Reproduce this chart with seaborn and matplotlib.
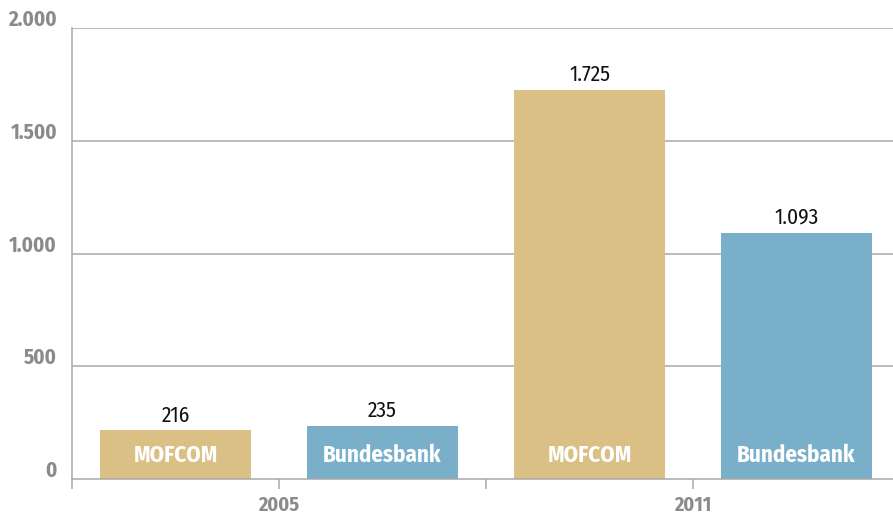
import matplotlib
matplotlib.use("Agg")
import matplotlib.pyplot as plt
import matplotlib.transforms as mtransforms
import seaborn as sns
import pandas as pd

# ---- data ----
years = ["2005", "2011"]
sources = ["MOFCOM", "Bundesbank"]
values_2005 = [216, 235]
values_2011 = [1725, 1093]
y_ticks = [0, 500, 1000, 1500, 2000]

colors = {"MOFCOM": "#DAC085", "Bundesbank": "#7AAFCA"}

rows = []
for yr, vals in zip(years, [values_2005, values_2011]):
    for src, v in zip(sources, vals):
        rows.append({"key": f"{yr} {src}", "year": yr, "source": src, "value": v})
df = pd.DataFrame(rows)

def fmt(v):
    return f"{v:,}".replace(",", ".")

sns.set_theme(style="white")
plt.rcParams["font.family"] = ["Fira Sans Condensed", "DejaVu Sans"]

W, H = 893, 518
fig = plt.figure(figsize=(W / 100, H / 100), dpi=100)
ax = fig.add_axes([72 / W, 39 / H, 828 / W, 451 / H])

sns.barplot(data=df, x="key", y="value", hue="source", palette=colors,
            dodge=False, width=0.725, saturation=1, legend=False,
            linewidth=0, ax=ax)

ax.set_ylim(0, 2000)
ax.set_xlim(-0.5, 3.5)
ax.set_xlabel("")
ax.set_ylabel("")

grid_c = "#A8A8A8"
for t in y_ticks[1:]:
    ax.axhline(t, color=grid_c, lw=1.1, zorder=0)

for s in ["top", "right"]:
    ax.spines[s].set_visible(False)
for s in ["left", "bottom"]:
    ax.spines[s].set_color(grid_c)
    ax.spines[s].set_linewidth(1.1)

# y ticks
ax.set_yticks(y_ticks)
ax.set_yticklabels([fmt(t) for t in y_ticks])
ax.tick_params(axis="y", length=0, pad=10.8, labelsize=15, labelcolor="#8A8A8A")
offset = mtransforms.ScaledTranslation(0, 2 / 100, fig.dpi_scale_trans)
for lab in ax.get_yticklabels():
    lab.set_fontweight("bold")
    lab.set_verticalalignment("baseline")
    lab.set_transform(lab.get_transform() + offset)

# x ticks
ax.set_xticks([-0.5, 0.5, 1.5, 2.5, 3.5])
ax.set_xticklabels(["", years[0], "", years[1], ""])
ax.tick_params(axis="x", length=7.2, width=1.1, color=grid_c, pad=5,
               labelsize=14.5, labelcolor="#8A8A8A", direction="out", bottom=True)
for lab in ax.get_xticklabels():
    lab.set_fontweight("bold")

# labels
for i, r in df.iterrows():
    ax.annotate(fmt(r["value"]), (i, r["value"]), xytext=(0, 6.3),
                textcoords="offset points", ha="center", va="baseline",
                fontsize=15.5, color="#111111")
    ax.annotate(r["source"], (i, 0), xytext=(0, 12.2),
                textcoords="offset points", ha="center", va="baseline",
                fontsize=16.5, color="white", fontweight="bold")

fig.savefig("out.png", dpi=100)
